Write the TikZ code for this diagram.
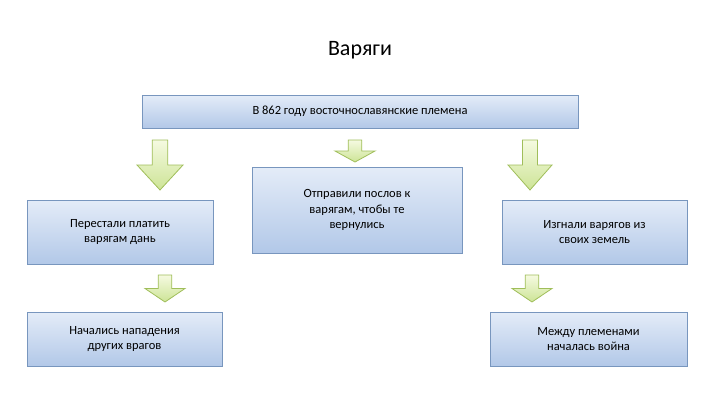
\documentclass[tikz,border=0pt]{standalone}
\usepackage{fontspec}
\setmainfont{Carlito}
\begin{document}
\begin{tikzpicture}[x=1pt,y=-1pt,
  box/.style={draw=boxline,line width=0.8pt,top color=boxtop,bottom color=boxbot,align=center,font=\fontsize{12.5}{15.5}\selectfont,inner sep=0pt},
  arr/.style={draw=arrline,line width=0.8pt,top color=arrtop,bottom color=arrbot}]
\definecolor{boxline}{RGB}{120,150,190}
\definecolor{boxtop}{RGB}{228,236,248}
\definecolor{boxbot}{RGB}{178,200,232}
\definecolor{arrline}{RGB}{160,190,90}
\definecolor{arrtop}{RGB}{245,250,225}
\definecolor{arrbot}{RGB}{205,228,150}
\useasboundingbox (0,0) rectangle (720,405);
\newcommand{\blockarrow}[4]{% center x, top y, width, height
  \path[arr] (#1-#3*0.17,#2) -- (#1+#3*0.17,#2) -- (#1+#3*0.17,#2+#4*0.5) -- (#1+#3*0.5,#2+#4*0.5)
   -- (#1,#2+#4) -- (#1-#3*0.5,#2+#4*0.5) -- (#1-#3*0.17,#2+#4*0.5) -- cycle;}
\node[font=\fontsize{22}{26}\selectfont] (title) at (360,50) {Варяги};
\node[box,minimum width=436,minimum height=33] (top) at (360,111.5) {В 862 году восточнославянские племена};
\node[box,minimum width=186,minimum height=64] (l1) at (120,232) {Перестали платить\\варягам дань};
\node[box,minimum width=210,minimum height=86] (m1) at (357,210) {Отправили послов к\\варягам, чтобы те\\вернулись};
\node[box,minimum width=185,minimum height=64] (r1) at (594.5,232) {Изгнали варягов из\\своих земель};
\node[box,minimum width=195,minimum height=54] (l2) at (124.5,339) {Начались нападения\\других врагов};
\node[box,minimum width=197,minimum height=54] (r2) at (588.5,339) {Между племенами\\началась война};
\blockarrow{160}{140}{46}{50}
\blockarrow{355}{140}{40}{22}
\blockarrow{530}{140}{44}{50}
\blockarrow{165}{275}{40}{27}
\blockarrow{532}{275}{40}{27}
\end{tikzpicture}
\end{document}
